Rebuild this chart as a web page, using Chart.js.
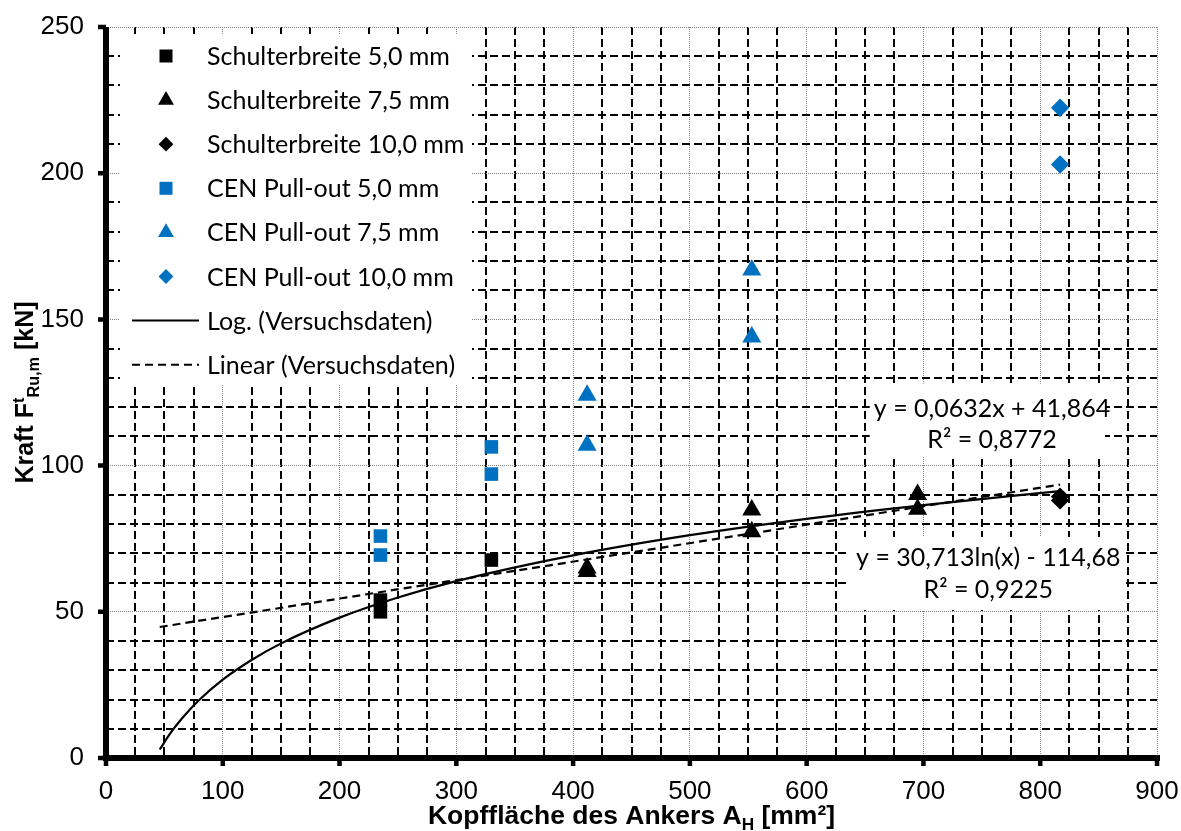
<!DOCTYPE html>
<html>
<head>
<meta charset="utf-8">
<script src="https://cdn.jsdelivr.net/npm/chart.js@4.4.1/dist/chart.umd.min.js"></script>
<style>
  html, body { margin: 0; padding: 0; background: #fff; }
  #wrap { width: 1181px; height: 831px; position: relative; }
</style>
</head>
<body>
<div id="wrap"><canvas id="chart"></canvas></div>
<script>
// ---------- data ----------
const xLabelTicks = [0, 100, 200, 300, 400, 500, 600, 700, 800, 900];
const yLabelTicks = [0, 50, 100, 150, 200, 250];

const seriesNames = [
    "Schulterbreite 5,0 mm",
    "Schulterbreite 7,5 mm",
    "Schulterbreite 10,0 mm",
    "CEN Pull-out 5,0 mm",
    "CEN Pull-out 7,5 mm",
    "CEN Pull-out 10,0 mm",
    "Log. (Versuchsdaten)",
    "Linear (Versuchsdaten)",
];

const schulter50X = [235, 235, 330];
const schulter50Y = [54.0, 50.0, 67.7];
const schulter75X = [412, 412, 553, 553, 695, 695];
const schulter75Y = [65.0, 63.8, 84.8, 77.4, 90.1, 85.1];
const schulter100X = [817, 817];
const schulter100Y = [89.4, 88.1];

const cen50X = [235, 235, 330, 330];
const cen50Y = [75.9, 69.4, 106.4, 97.1];
const cen75X = [412, 412, 553, 553];
const cen75Y = [124.1, 107.0, 166.9, 144.0];
const cen100X = [817, 817];
const cen100Y = [222.4, 203.0];

// trend lines as drawn in the picture
const logX = [46, 55, 65, 80, 100, 125, 150, 200, 250, 300, 400, 500, 600, 700, 817];
const logY = [2.9, 8.4, 13.5, 19.9, 26.8, 33.6, 39.2, 48.0, 54.9, 60.5, 69.3, 76.2, 81.8, 86.5, 91.3];
const linX = [46, 817];
const linY = [44.8, 93.5];

const linEquation = ["y = 0,0632x + 41,864", "R² = 0,8772"];
const logEquation = ["y = 30,713ln(x) - 114,68", "R² = 0,9225"];

// ---------- helpers ----------
const BLUE = "#0070C0";
const BLACK = "#000000";
const TICK_FONT = "'Liberation Sans', Arial, sans-serif";
const toPoints = (xs, ys) => xs.map((x, i) => ({ x, y: ys[i] }));

const markerRadius = { rect: 9.6, triangle: 11, rectRot: 9.2 };
const legendRadius = { rect: 9.2, triangle: 9.2, rectRot: 7.4 };

function scatterSet(label, xs, ys, style, color) {
    return {
        label,
        data: toPoints(xs, ys),
        showLine: false,
        pointStyle: style,
        pointRadius: markerRadius[style],
        pointHoverRadius: markerRadius[style],
        pointBackgroundColor: color,
        pointBorderColor: color,
        pointBorderWidth: 0,
        backgroundColor: color,
        borderColor: color,
    };
}

function trendSet(label, xs, ys, dash) {
    return {
        label,
        data: toPoints(xs, ys),
        showLine: true,
        borderColor: BLACK,
        backgroundColor: BLACK,
        borderWidth: 2.2,
        borderDash: dash,
        pointRadius: 0,
        cubicInterpolationMode: "monotone",
        isTrend: true,
    };
}

const isMajorX = v => xLabelTicks.includes(v);
const isMajorY = v => yLabelTicks.includes(v);

function gridFor(isMajor) {
    return {
        color: c => (c.tick && isMajor(c.tick.value) ? "#808080" : BLACK),
        lineWidth: c => (c.tick && isMajor(c.tick.value) ? 1 : 2),
        tickColor: "rgba(0,0,0,0)",
        tickLength: 8,
        drawTicks: true,
    };
}

function borderFor(isMajor) {
    return {
        display: false,
        dash: c => (c.tick ? (isMajor(c.tick.value) ? [1, 1] : [8, 4]) : []),
    };
}

// ---------- plugin: legend box, equations, axes, axis titles ----------
function drawRich(ctx, parts, size, weight, family) {
    // parts: [{t, mode}] mode: "" | "sub" | "sup"
    const widths = parts.map(p => {
        const s = p.mode ? size * 0.65 : size;
        ctx.font = `${weight} ${s}px ${family}`;
        return ctx.measureText(p.t).width;
    });
    const total = widths.reduce((a, b) => a + b, 0);
    let x = -total / 2;
    parts.forEach((p, i) => {
        const s = p.mode ? size * 0.65 : size;
        ctx.font = `${weight} ${s}px ${family}`;
        let dy = 0;
        if (p.mode === "sub") dy = size * 0.22;
        if (p.mode === "sup") dy = -size * 0.38;
        ctx.fillText(p.t, x, dy);
        x += widths[i];
    });
}

const decorPlugin = {
    id: "decor",
    beforeDatasetsDraw(chart) {
        const { ctx, chartArea: a, scales: { x, y } } = chart;
        ctx.save();
        ctx.fillStyle = "#ffffff";
        // legend box
        ctx.fillRect(a.left + 14, a.top + 7, 352, 351);
        // equation boxes
        const box = (x0, x1, y0, y1) => {
            const px0 = x.getPixelForValue(x0), px1 = x.getPixelForValue(x1);
            const py0 = y.getPixelForValue(y0), py1 = y.getPixelForValue(y1);
            ctx.fillRect(px0, py0, px1 - px0, py1 - py0);
        };
        box(654, 855.5, 128, 103.3);
        box(637, 871, 75.6, 50.6);
        ctx.restore();
    },
    afterDatasetsDraw(chart) {
        const { ctx, chartArea: a, scales: { x, y } } = chart;
        ctx.save();

        // legend entries
        chart.data.datasets.forEach((ds, i) => {
            const rowY = a.top + 29 + i * 44.1;
            if (ds.isTrend) {
                ctx.strokeStyle = ds.borderColor;
                ctx.lineWidth = 2;
                ctx.setLineDash(ds.borderDash || []);
                ctx.beginPath();
                ctx.moveTo(a.left + 26, rowY);
                ctx.lineTo(a.left + 93, rowY);
                ctx.stroke();
                ctx.setLineDash([]);
            } else {
                ctx.fillStyle = ds.backgroundColor;
                Chart.helpers.drawPoint(ctx, {
                    pointStyle: ds.pointStyle,
                    radius: legendRadius[ds.pointStyle],
                    rotation: 0,
                    borderWidth: 0,
                }, a.left + 60, rowY);
            }
            ctx.fillStyle = BLACK;
            ctx.font = "25px Lato";
            ctx.textAlign = "left";
            ctx.textBaseline = "middle";
            ctx.fillText(ds.label, a.left + 101, rowY + 1);
        });

        // trend line equations
        ctx.fillStyle = BLACK;
        ctx.font = "25px Lato";
        ctx.textAlign = "center";
        ctx.textBaseline = "middle";
        const cx1 = x.getPixelForValue(758.7);
        ctx.fillText(linEquation[0], cx1, y.getPixelForValue(119.4));
        ctx.fillText(linEquation[1], cx1, y.getPixelForValue(108.8));
        const cx2 = x.getPixelForValue(755.5);
        ctx.fillText(logEquation[0], cx2, y.getPixelForValue(68.4));
        ctx.fillText(logEquation[1], cx2, y.getPixelForValue(57.5));
        ctx.restore();
    },
    afterDraw(chart) {
        const { ctx, chartArea: a, scales: { x, y } } = chart;
        ctx.save();

        // thick axes with outward major ticks
        ctx.strokeStyle = BLACK;
        ctx.lineWidth = 6;
        ctx.beginPath();
        ctx.moveTo(a.left, a.top);
        ctx.lineTo(a.left, a.bottom + 3);
        ctx.moveTo(a.left - 3, a.bottom);
        ctx.lineTo(a.right + 3, a.bottom);
        ctx.stroke();
        ctx.lineWidth = 4.5;
        ctx.beginPath();
        xLabelTicks.forEach(v => {
            const px = x.getPixelForValue(v);
            ctx.moveTo(px, a.bottom);
            ctx.lineTo(px, a.bottom + 8);
        });
        yLabelTicks.forEach(v => {
            const py = y.getPixelForValue(v);
            ctx.moveTo(a.left, py);
            ctx.lineTo(a.left - 8, py);
        });
        ctx.stroke();

        ctx.fillStyle = BLACK;
        ctx.textAlign = "left";
        ctx.textBaseline = "alphabetic";

        // x title
        ctx.save();
        ctx.translate((a.left + a.right) / 2, 824);
        drawRich(ctx, [
            { t: "Kopffläche des Ankers A", mode: "" },
            { t: "H", mode: "sub" },
            { t: " [mm²]", mode: "" },
        ], 26.5, "bold", TICK_FONT);
        ctx.restore();

        // y title
        ctx.save();
        ctx.translate(33, (a.top + a.bottom) / 2);
        ctx.rotate(-Math.PI / 2);
        drawRich(ctx, [
            { t: "Kraft F", mode: "" },
            { t: "t", mode: "sup" },
            { t: "Ru,m", mode: "sub" },
            { t: " [kN]", mode: "" },
        ], 25, "bold", TICK_FONT);
        ctx.restore();

        ctx.restore();
    },
};

// ---------- chart ----------
const ctx = document.getElementById("chart").getContext("2d");

new Chart(ctx, {
    type: "scatter",
    data: {
        datasets: [
            scatterSet(seriesNames[0], schulter50X, schulter50Y, "rect", BLACK),
            scatterSet(seriesNames[1], schulter75X, schulter75Y, "triangle", BLACK),
            scatterSet(seriesNames[2], schulter100X, schulter100Y, "rectRot", BLACK),
            scatterSet(seriesNames[3], cen50X, cen50Y, "rect", BLUE),
            scatterSet(seriesNames[4], cen75X, cen75Y, "triangle", BLUE),
            scatterSet(seriesNames[5], cen100X, cen100Y, "rectRot", BLUE),
            trendSet(seriesNames[6], logX, logY, []),
            trendSet(seriesNames[7], linX, linY, [8, 5]),
        ],
    },
    options: {
        responsive: true,
        maintainAspectRatio: false,
        animation: false,
        layout: { padding: { top: 27, right: 24, left: 0, bottom: 0 } },
        plugins: {
            legend: { display: false },
            tooltip: { enabled: false },
        },
        scales: {
            x: {
                type: "linear",
                min: 0,
                max: 900,
                grid: gridFor(isMajorX),
                border: borderFor(isMajorX),
                ticks: {
                    stepSize: 25,
                    autoSkip: false,
                    maxRotation: 0,
                    padding: 10,
                    color: BLACK,
                    font: { family: TICK_FONT, size: 26 },
                    callback: v => (isMajorX(v) ? String(v) : ""),
                },
                afterFit: scale => {
                    scale.height = 73;
                    scale.paddingLeft = 0;
                    scale.paddingRight = 0;
                },
            },
            y: {
                type: "linear",
                min: 0,
                max: 250,
                grid: gridFor(isMajorY),
                border: borderFor(isMajorY),
                ticks: {
                    stepSize: 10,
                    autoSkip: false,
                    padding: 14,
                    color: BLACK,
                    font: { family: TICK_FONT, size: 26 },
                    callback: v => (isMajorY(v) ? String(v) : ""),
                },
                afterFit: scale => {
                    scale.width = 106;
                    scale.paddingTop = 0;
                    scale.paddingBottom = 0;
                },
            },
        },
    },
    plugins: [decorPlugin],
});
</script>
</body>
</html>
